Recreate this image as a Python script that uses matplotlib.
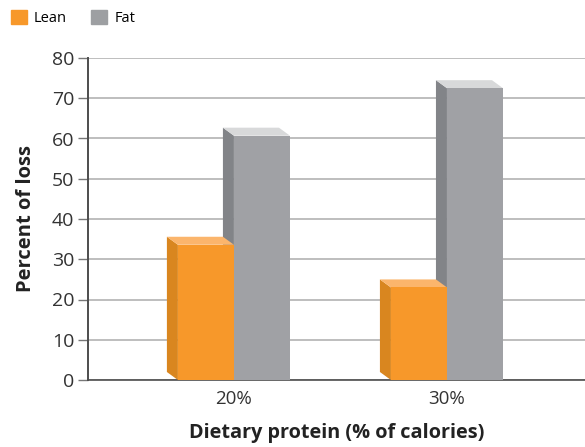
import numpy as np
import matplotlib.pyplot as plt
from matplotlib.patches import Polygon, Patch

# data
groups = ['20%', '30%']
series = ['Lean', 'Fat']
lean = [33.6, 23.0]
fat = [60.7, 72.5]

front_cols = {'Lean': '#F7982A', 'Fat': '#A0A1A5'}
side_cols = {'Lean': '#D9861F', 'Fat': '#828488'}
top_cols = {'Lean': '#FBB56C', 'Fat': '#D8D9DA'}

fig = plt.figure(figsize=(5.85, 4.47), dpi=100)
ax = fig.add_axes([88 / 585, 67 / 447, 1 - 88 / 585, 322 / 447])

x = np.arange(len(groups))
w = 0.263
# depth of the fake 3d, in data units (about 11 px left, 8 px up)
dx = -11 / 213
dy = 8 / 4.025


def bar3d(xs, heights, name, z):
    for xc, h in zip(xs, heights):
        x0, x1 = xc - w / 2, xc + w / 2
        side = Polygon([(x0, 0), (x0, h), (x0 + dx, h + dy), (x0 + dx, dy)],
                       closed=True, fc=side_cols[name], ec='none', zorder=z)
        top = Polygon([(x0, h), (x1, h), (x1 + dx, h + dy), (x0 + dx, h + dy)],
                      closed=True, fc=top_cols[name], ec='none', zorder=z)
        ax.add_patch(side)
        ax.add_patch(top)
    ax.bar(xs, heights, width=w, color=front_cols[name], zorder=z, linewidth=0)


bar3d(x + w / 2, fat, 'Fat', 3)
bar3d(x - w / 2, lean, 'Lean', 4)

ax.set_xlim(-0.685, 1.648)
ax.set_ylim(0, 80)
ax.set_yticks(np.arange(0, 81, 10))
ax.set_xticks(x)
ax.set_xticklabels(groups)
ax.yaxis.grid(True, color='#BEBEBE', linewidth=1.4, zorder=0)
ax.set_axisbelow(True)

for s in ['top', 'right']:
    ax.spines[s].set_visible(False)
ax.spines['left'].set_color('#4D4D4D')
ax.spines['left'].set_linewidth(1.4)
ax.spines['bottom'].set_color('#4D4D4D')
ax.spines['bottom'].set_linewidth(1.2)
ax.tick_params(axis='y', length=7, width=1.0, color='#777777',
               labelsize=14, labelcolor='#333333', pad=3)
ax.tick_params(axis='x', length=0, labelsize=13.5, labelcolor='#333333', pad=7)
for lab in ax.get_xticklabels() + ax.get_yticklabels():
    lab.set_family('Open Sans')

ax.set_ylabel('Percent of loss', fontsize=14.5, fontweight='bold',
              family='Open Sans', color='#222222', labelpad=11)
ax.set_xlabel('Dietary protein (% of calories)', fontsize=14.3,
              fontweight='bold', family='Open Sans', color='#222222', labelpad=11)

handles = [Patch(color=front_cols['Lean'], label='Lean'),
           Patch(color='#9D9FA2', label='Fat')]
fig.legend(handles=handles, loc='upper left', bbox_to_anchor=(-0.004, 1.008),
           ncol=2, frameon=False, handlelength=1.1, handleheight=1.1,
           handletextpad=0.5, columnspacing=1.65,
           prop={'family': 'Open Sans', 'size': 10.5})

fig.savefig('out.png', dpi=100)
